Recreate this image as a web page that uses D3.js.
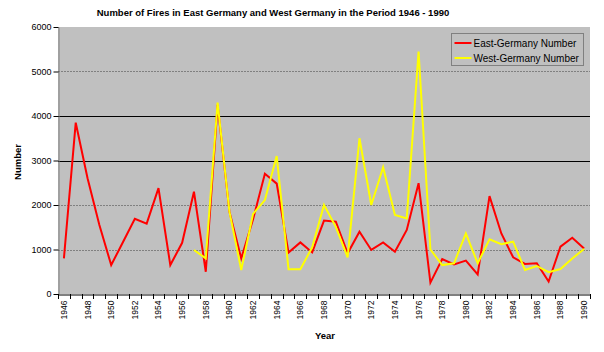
<!DOCTYPE html>
<html>
<head>
<meta charset="utf-8">
<script src="https://cdn.jsdelivr.net/npm/d3@7"></script>
<style>
  body { margin: 0; background: #fff; }
  text { font-family: "Liberation Sans", Arial, sans-serif; }
</style>
</head>
<body>
<div id="grafico"></div>
<script>
// data
var years = d3.range(1946, 1991);
var eastNumber = [800, 3850, 2600, 1550, 650, 1170, 1690, 1580, 2380, 650,
  1150, 2300, 500, 4250, 1850, 800, 1680, 2700, 2480, 930,
  1160, 935, 1650, 1625, 915, 1400, 990, 1160, 950, 1440,
  2490, 255, 785, 665, 750, 440, 2200, 1360, 825, 675,
  690, 280, 1065, 1265, 1025];
var westNumber = [null, null, null, null, null, null, null, null, null, null,
  null, 990, 800, 4300, 1850, 540, 1800, 2110, 3100, 555,
  555, 1050, 2000, 1510, 825, 3500, 2000, 2850, 1775, 1700,
  5450, 1000, 650, 690, 1360, 690, 1230, 1120, 1175, 540,
  630, 490, 560, 800, 1010];
var yTicks = [0, 1000, 2000, 3000, 4000, 5000, 6000];
var solidLines = [3000, 4000];

var margin = {top: 27, right: 14, bottom: 58, left: 58},
    width = 604 - margin.left - margin.right,
    height = 352 - margin.top - margin.bottom;

var svg = d3.select("#grafico")
  .append("svg")
    .attr("width", 604)
    .attr("height", 352)
  .append("g")
    .attr("transform", "translate(" + margin.left + "," + margin.top + ")");

var x = d3.scaleBand()
    .domain(years)
    .range([0, width]);

var y = d3.scaleLinear()
    .domain([0, 6000])
    .range([height, 0]);

// plot background
svg.append("rect")
  .attr("width", width)
  .attr("height", height)
  .attr("fill", "#c0c0c0");

// grid
svg.append("g")
  .selectAll("line")
  .data(yTicks.filter(function(d) { return d > 0 && d < 6000; }))
  .enter()
  .append("line")
    .attr("x1", 0)
    .attr("x2", width)
    .attr("y1", function(d) { return Math.round(y(d)) + 0.5; })
    .attr("y2", function(d) { return Math.round(y(d)) + 0.5; })
    .attr("stroke", function(d) { return solidLines.indexOf(d) >= 0 ? "#000" : "#808080"; })
    .attr("stroke-dasharray", function(d) { return solidLines.indexOf(d) >= 0 ? null : "2,1"; })
    .attr("stroke-width", 1);

// Y axis
var yAxis = svg.append("g")
  .attr("transform", "translate(0.5,0)")
  .call(d3.axisLeft(y).tickValues(yTicks).tickFormat(d3.format("d")).tickSize(5).tickSizeOuter(0));
yAxis.select(".domain").attr("stroke", "#808080");
yAxis.selectAll(".tick line").attr("stroke", "#000");
yAxis.selectAll("text")
  .attr("font-size", 9)
  .attr("x", -7)
  .style("fill", "#000");

// X axis
var xAxis = svg.append("g")
  .attr("transform", "translate(0," + (height + 0.5) + ")")
  .call(d3.axisBottom(x).tickSize(0).tickFormat(function(d) { return d % 2 == 0 ? d : ""; }));
xAxis.select(".domain").attr("stroke", "#000");
xAxis.selectAll("text")
  .attr("font-size", 8.5)
  .style("text-anchor", "end")
  .attr("transform", "rotate(-90)")
  .attr("x", -6)
  .attr("y", 0)
  .attr("dy", ".35em")
  .style("fill", "#000");

// tick marks between categories
svg.append("g")
  .selectAll("line")
  .data(years.concat([1991]))
  .enter()
  .append("line")
    .attr("x1", function(d, i) { return Math.round(i * x.bandwidth()) + 0.5; })
    .attr("x2", function(d, i) { return Math.round(i * x.bandwidth()) + 0.5; })
    .attr("y1", height)
    .attr("y2", height + 5)
    .attr("stroke", "#000");

// lines
var line = d3.line()
  .defined(function(d) { return d.v != null; })
  .x(function(d) { return x(d.year) + x.bandwidth() / 2; })
  .y(function(d) { return y(d.v); });

svg.append("path")
  .datum(years.map(function(d, i) { return {year: d, v: eastNumber[i]}; }))
  .attr("fill", "none")
  .attr("stroke", "#ff0000")
  .attr("stroke-width", 2)
  .attr("d", line);

svg.append("path")
  .datum(years.map(function(d, i) { return {year: d, v: westNumber[i]}; }))
  .attr("fill", "none")
  .attr("stroke", "#ffff00")
  .attr("stroke-width", 2)
  .attr("d", line);

// titles
d3.select("svg").append("text")
  .attr("x", 273)
  .attr("y", 16)
  .style("text-anchor", "middle")
  .attr("font-weight", "bold")
  .attr("font-size", 9.5)
  .text("Number of Fires in East Germany and West Germany in the Period 1946 - 1990");

d3.select("svg").append("text")
  .attr("x", 325)
  .attr("y", 339)
  .style("text-anchor", "middle")
  .attr("font-weight", "bold")
  .attr("font-size", 9.5)
  .text("Year");

d3.select("svg").append("text")
  .attr("transform", "rotate(-90)")
  .attr("x", -162)
  .attr("y", 21)
  .style("text-anchor", "middle")
  .attr("font-weight", "bold")
  .attr("font-size", 9.5)
  .text("Number");

// legend
var legend = d3.select("svg").append("g")
  .attr("transform", "translate(451.5,33.5)");

legend.append("rect")
  .attr("width", 132)
  .attr("height", 32)
  .attr("fill", "#c0c0c0")
  .attr("stroke", "#404040")
  .attr("stroke-dasharray", "1,1");

var names = ["East-Germany Number", "West-Germany Number"];
var colors = ["#ff0000", "#ffff00"];

names.forEach(function(n, i) {
  legend.append("line")
    .attr("x1", 3)
    .attr("x2", 20)
    .attr("y1", 9.5 + i * 15)
    .attr("y2", 9.5 + i * 15)
    .attr("stroke", colors[i])
    .attr("stroke-width", 2);
  legend.append("text")
    .attr("x", 22)
    .attr("y", 13 + i * 15)
    .attr("font-size", 10)
    .text(n);
});
</script>
</body>
</html>
